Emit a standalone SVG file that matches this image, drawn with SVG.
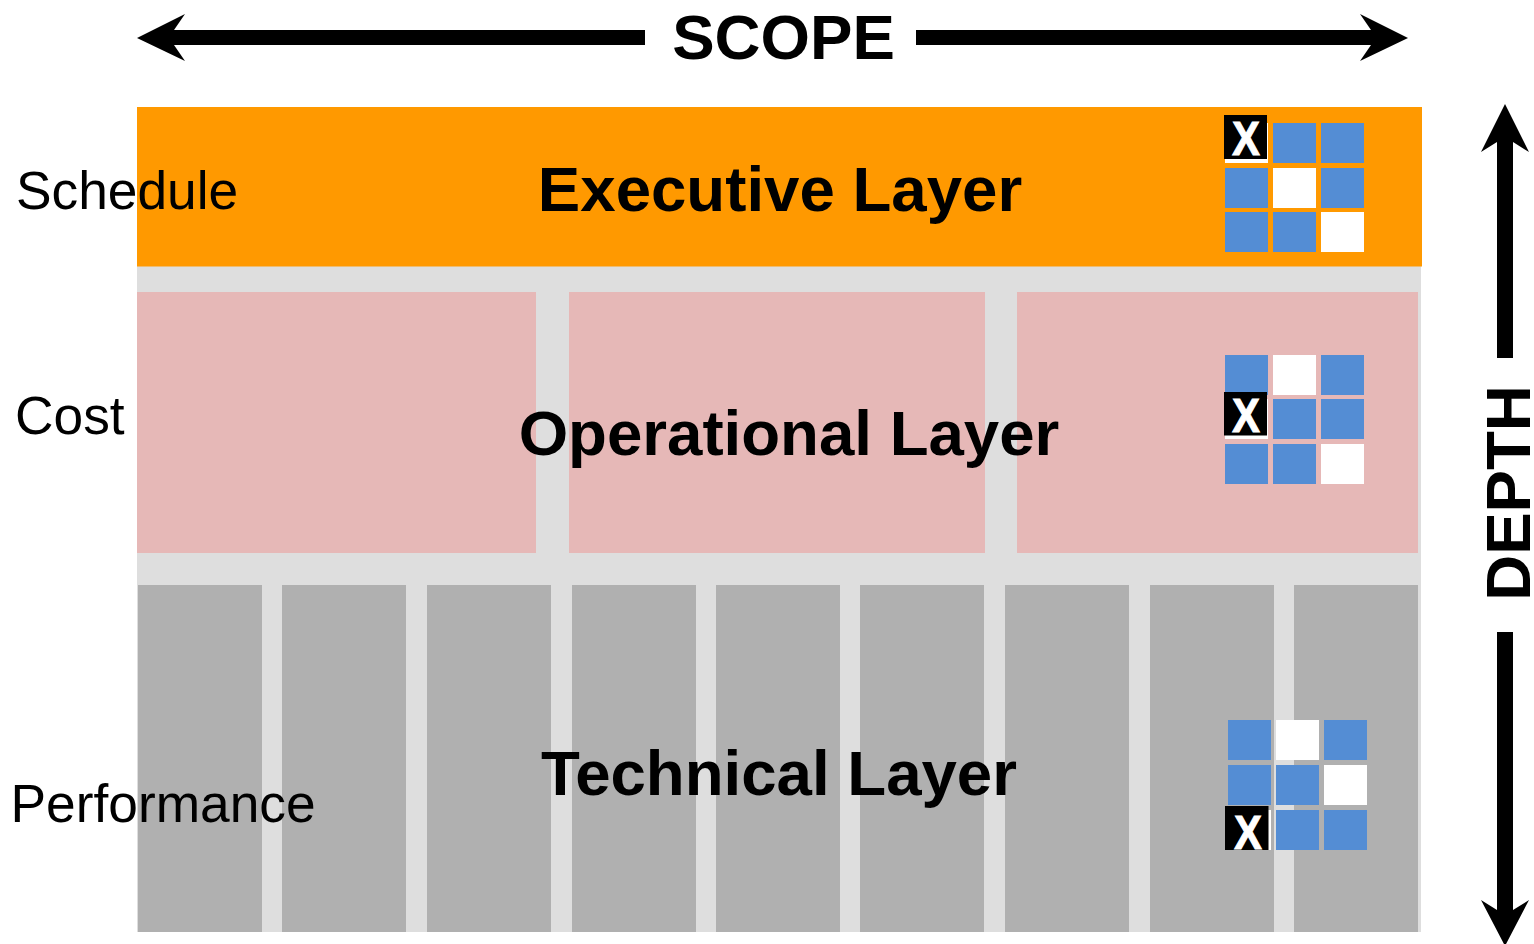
<svg xmlns="http://www.w3.org/2000/svg" width="1534" height="944" viewBox="0 0 1534 944">
<style>
text{font-family:"Liberation Sans",Arial,sans-serif;fill:#000}
.b{font-weight:700;font-size:63.600px;text-anchor:middle}
.s{font-size:53.300px}
.blue{fill:#548dd4}.white{fill:#fff}
.tech{fill:#b0b0b0}.op{fill:#e6b8b7}
.xb{fill:#000}
.xt{font-weight:700;font-size:48px;fill:#fff;stroke:#fff;stroke-width:1.200px;text-anchor:middle}
.ar{fill:#000}
</style>
<rect width="1534" height="944" fill="#fff"/>
<g id="backdrop"><rect x="137" y="266" width="1284" height="666" fill="#dedede"/></g>
<g id="executive-layer">
<rect x="137" y="107" width="1285" height="159.500" fill="#ff9900"/>
<text class="b" x="780" y="211">Executive Layer</text>
</g>
<g id="operational-layer">
<rect class="op" x="137" y="292" width="399" height="261"/>
<rect class="op" x="569" y="292" width="416" height="261"/>
<rect class="op" x="1017" y="292" width="401" height="261"/>
<text class="b" x="789" y="455">Operational Layer</text>
</g>
<g id="technical-layer">
<rect class="tech" x="138" y="585" width="124" height="347"/>
<rect class="tech" x="282" y="585" width="124" height="347"/>
<rect class="tech" x="427" y="585" width="124" height="347"/>
<rect class="tech" x="572" y="585" width="124" height="347"/>
<rect class="tech" x="716" y="585" width="124" height="347"/>
<rect class="tech" x="860" y="585" width="124" height="347"/>
<rect class="tech" x="1005" y="585" width="124" height="347"/>
<rect class="tech" x="1150" y="585" width="124" height="347"/>
<rect class="tech" x="1294" y="585" width="124" height="347"/>
<text class="b" x="779" y="795">Technical Layer</text>
</g>
<g id="label-schedule"><text class="s" x="16" y="209">Schedule</text></g>
<g id="label-cost"><text class="s" x="15" y="434">Cost</text></g>
<g id="label-performance"><text class="s" x="10.500" y="822">Performance</text></g>
<g id="grid-executive">
<rect class="white" x="1225" y="123" width="43" height="40"/>
<rect class="blue" x="1273" y="123" width="43" height="40"/>
<rect class="blue" x="1321" y="123" width="43" height="40"/>
<rect class="blue" x="1225" y="168" width="43" height="40"/>
<rect class="white" x="1273" y="168" width="43" height="40"/>
<rect class="blue" x="1321" y="168" width="43" height="40"/>
<rect class="blue" x="1225" y="212" width="43" height="40"/>
<rect class="blue" x="1273" y="212" width="43" height="40"/>
<rect class="white" x="1321" y="212" width="43" height="40"/>
<rect class="xb" x="1224" y="115" width="43" height="44"/>
<text class="xt" transform="translate(1246 154.500) scale(.86 1)">X</text>
</g>
<g id="grid-operational">
<rect class="blue" x="1225" y="355" width="43" height="40"/>
<rect class="white" x="1273" y="355" width="43" height="40"/>
<rect class="blue" x="1321" y="355" width="43" height="40"/>
<rect class="white" x="1225" y="399" width="43" height="40"/>
<rect class="blue" x="1273" y="399" width="43" height="40"/>
<rect class="blue" x="1321" y="399" width="43" height="40"/>
<rect class="blue" x="1225" y="444" width="43" height="40"/>
<rect class="blue" x="1273" y="444" width="43" height="40"/>
<rect class="white" x="1321" y="444" width="43" height="40"/>
<rect class="xb" x="1224" y="392" width="43" height="43.500"/>
<text class="xt" transform="translate(1246 431.500) scale(.86 1)">X</text>
</g>
<g id="grid-technical">
<rect class="blue" x="1228" y="720" width="43" height="40"/>
<rect class="white" x="1276" y="720" width="43" height="40"/>
<rect class="blue" x="1324" y="720" width="43" height="40"/>
<rect class="blue" x="1228" y="765" width="43" height="40"/>
<rect class="blue" x="1276" y="765" width="43" height="40"/>
<rect class="white" x="1324" y="765" width="43" height="40"/>
<rect class="white" x="1228" y="810" width="43" height="40"/>
<rect class="blue" x="1276" y="810" width="43" height="40"/>
<rect class="blue" x="1324" y="810" width="43" height="40"/>
<rect class="xb" x="1225" y="806" width="43.500" height="44"/>
<text class="xt" transform="translate(1248 848.500) scale(.86 1)">X</text>
</g>
<g id="connectors">
<polygon class="ar" points="137,38 185,14 174,30 645,30 645,45 174,45 185,61"/>
<polygon class="ar" points="1408,38 1360,14 1371,30 916,30 916,45 1371,45 1360,61"/>
<polygon class="ar" points="1505,104 1481,152 1497,142 1497,358 1513,358 1513,142 1529,152"/>
<polygon class="ar" points="1505,946 1481,900 1497,910 1497,632 1513,632 1513,910 1529,900"/>
</g>
<g id="label-scope"><text class="b" x="783.500" y="59">SCOPE</text></g>
<g id="label-depth"><text class="b" transform="translate(1530 493) rotate(-90)">DEPTH</text></g>
</svg>
